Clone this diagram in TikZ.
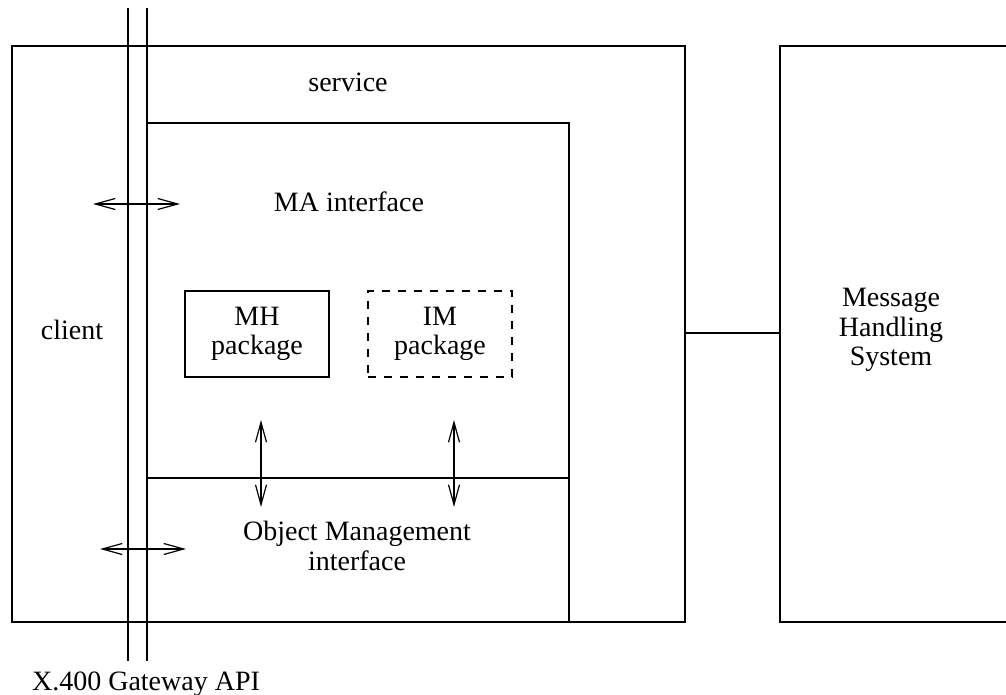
\documentclass[tikz,border=0pt]{standalone}
\usepackage{fontspec}
\setmainfont{Liberation Serif}
\usetikzlibrary{arrows.meta}

\begin{document}
\begin{tikzpicture}[x=0.5pt, y=-0.5pt, line width=0.7pt,
    every node/.style={font=\fontsize{14}{14.7}\selectfont, align=center},
    pkg/.style={draw, minimum width=72pt, minimum height=43pt, inner sep=0pt},
    biarrow/.style={{Straight Barb[length=10pt,width=5.5pt]}-{Straight Barb[length=10pt,width=5.5pt]}, line width=0.6pt}]
  \useasboundingbox (0,0) rectangle (1006,695);
  % service and MA interface boxes
  \draw (12,46) rectangle (685,622);
  \draw (147,123) -- (569,123) -- (569,622);
  \draw (147,478) -- (569,478);
  % gateway API lines
  \draw (128,8) -- (128,661);
  \draw (147,8) -- (147,661);
  % message handling system
  \draw (1006,46) -- (780,46) -- (780,622) -- (1006,622);
  \coordinate (svcE) at (685,333);
  \coordinate (mhsW) at (780,333);
  \draw (svcE) -- (mhsW);
  % labels
  \node (service) at (348,82) {service};
  \node (ma) at (349,202) {MA interface};
  \node (client) at (72,330) {client};
  \node[pkg] (mh) at (257,334) {MH\\package};
  \node[pkg, dash pattern=on 4pt off 4pt] (im) at (440,334) {IM\\package};
  \node (om) at (357,546) {Object Management\\interface};
  \node (mhs) at (891,330) {Message\\Handling\\System};
  \node (api) at (146,684) {X.400 Gateway API};
  % arrows
  \coordinate (maL) at (93,204);
  \coordinate (maR) at (180,204);
  \coordinate (omL) at (100,549);
  \coordinate (omR) at (186,549);
  \coordinate (mhT) at (261,420);
  \coordinate (mhB) at (261,507);
  \coordinate (imT) at (454,420);
  \coordinate (imB) at (454,507);
  \draw[biarrow] (maL) -- (maR);
  \draw[biarrow] (omL) -- (omR);
  \draw[biarrow] (mhT) -- (mhB);
  \draw[biarrow] (imT) -- (imB);
\end{tikzpicture}
\end{document}
